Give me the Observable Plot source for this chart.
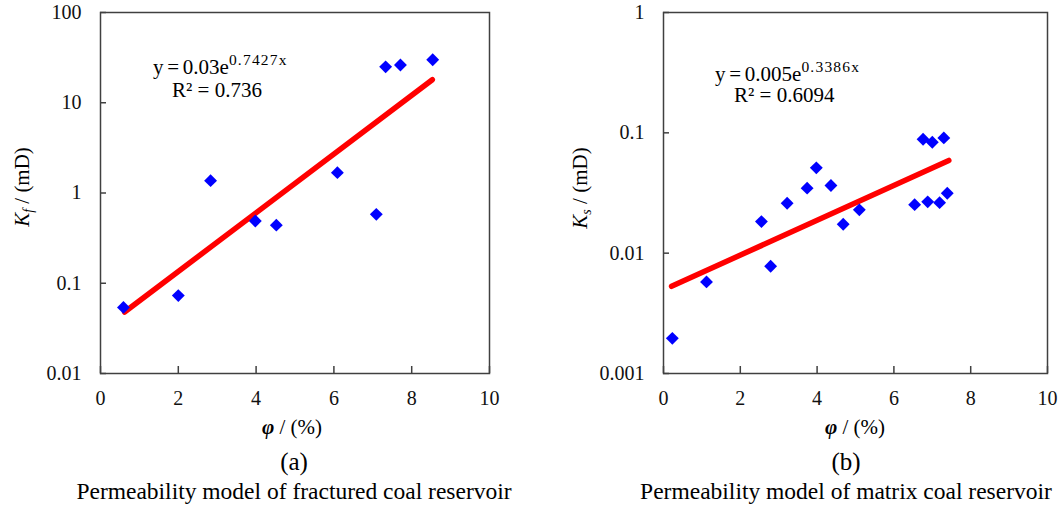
<!DOCTYPE html>
<html>
<head>
<meta charset="utf-8">
<script src="https://cdn.jsdelivr.net/npm/d3@7"></script>
<script src="https://cdn.jsdelivr.net/npm/@observablehq/plot@0.6"></script>
<style>
  body { margin: 0; background: #fff; }
  #wrap { position: relative; width: 1062px; height: 508px; overflow: hidden; background: #fff; }
  #wrap > svg { position: absolute; top: 0; }
</style>
</head>
<body>
<div id="wrap"></div>
<script>
// ---- Data ----
// Panel (a): fractured coal reservoir
const phiA = [0.59, 2.0, 2.83, 3.98, 4.52, 6.09, 7.09, 7.33, 7.71, 8.54];
const kfA  = [0.054, 0.073, 1.37, 0.49, 0.44, 1.68, 0.58, 25, 26.2, 30];
const fitPhiA = [0.62, 8.53];
const fitKA   = [0.048, 18];
// Panel (b): matrix coal reservoir
const phiB = [0.23, 1.12, 2.79, 2.55, 3.22, 3.74, 3.98, 4.36, 4.68, 5.10, 6.54, 6.76, 6.88, 7.00, 7.19, 7.30, 7.39];
const ksB  = [0.00196, 0.00577, 0.00778, 0.0183, 0.026, 0.0347, 0.0512, 0.0365, 0.0174, 0.0229, 0.0253, 0.0885, 0.0267, 0.0836, 0.0263, 0.0908, 0.0315];
const fitPhiB = [0.21, 7.43];
const fitKB   = [0.0053, 0.059];
// Ticks
const xTicks  = [0, 2, 4, 6, 8, 10];
const yTicksA = [0.01, 0.1, 1, 10, 100];
const yTicksB = [0.001, 0.01, 0.1, 1];
// Texts
const eqA = ["y = 0.03e", "0.7427x", "R² = 0.736"];
const eqB = ["y = 0.005e", "0.3386x", "R² = 0.6094"];
const captionA = ["(a)", "Permeability model of fractured coal reservoir"];
const captionB = ["(b)", "Permeability model of matrix coal reservoir"];

const FONT = '"Liberation Serif", "Times New Roman", serif';
const AXIS = "#404040";

function panel({phi, k, fitPhi, fitK, yDomain, yTicks, width, marginLeft, marginRight}) {
  const pts = phi.map((p, i) => ({phi: p, k: k[i]}));
  const fit = fitPhi.map((p, i) => ({phi: p, k: fitK[i]}));
  return Plot.plot({
    width, height: 440,
    marginLeft, marginRight, marginTop: 12, marginBottom: 67,
    style: {fontFamily: FONT, fontSize: "20px", color: "#111", background: "transparent", overflow: "visible"},
    x: {domain: [0, 10], label: null},
    y: {type: "log", domain: yDomain, label: null},
    marks: [
      Plot.axisX({ticks: xTicks, tickFormat: d => String(d), tickSize: -7, tickPadding: 24, stroke: AXIS, strokeWidth: 1.5, label: null}),
      Plot.axisY({ticks: yTicks, tickFormat: d => String(d), tickSize: -6, tickPadding: 25, stroke: AXIS, strokeWidth: 1.5, label: null}),
      Plot.line(fit, {x: "phi", y: "k", stroke: "#ff0000", strokeWidth: 5.5, strokeLinecap: "round"}),
      Plot.dot(pts, {x: "phi", y: "k", symbol: "diamond2", r: 5.8, fill: "#0000ff", stroke: null}),
      Plot.frame({stroke: AXIS, strokeWidth: 1.5})
    ]
  });
}

const wrap = document.getElementById("wrap");
const a = panel({phi: phiA, k: kfA, fitPhi: fitPhiA, fitK: fitKA, yDomain: [0.01, 100], yTicks: yTicksA, width: 540, marginLeft: 100, marginRight: 51});
a.style.left = "0px";
wrap.appendChild(a);
const b = panel({phi: phiB, k: ksB, fitPhi: fitPhiB, fitK: fitKB, yDomain: [0.001, 1], yTicks: yTicksB, width: 522, marginLeft: 123, marginRight: 15});
b.style.left = "540px";
wrap.appendChild(b);

// ---- Text overlay ----
const ov = d3.select("#wrap").append("svg")
  .attr("width", 1062).attr("height", 508)
  .style("left", "0px").style("pointer-events", "none")
  .attr("font-family", FONT).attr("fill", "#000");

function equation(x, y1, y2, [main, sup, r2]) {
  const t = ov.append("text").attr("x", x).attr("y", y1).attr("font-size", 21).attr("word-spacing", -1.5);
  t.append("tspan").text(main);
  t.append("tspan").attr("font-size", 15.5).attr("letter-spacing", 1.2).attr("dy", -9.5).text(sup);
  ov.append("text").attr("x", x + 19).attr("y", y2).attr("font-size", 21).text(r2);
}
equation(153, 74, 97, eqA);
equation(715, 81, 102, eqB);

function yLabel(cx, cy, sub) {
  const t = ov.append("text").attr("transform", `translate(${cx},${cy}) rotate(-90)`)
    .attr("text-anchor", "middle").attr("dy", "0.35em").attr("font-size", 21);
  t.append("tspan").attr("font-style", "italic").text("K");
  t.append("tspan").attr("font-style", "italic").attr("font-size", 14).attr("dy", 4).text(sub);
  t.append("tspan").attr("dy", -4).text(" / (mD)");
}
yLabel(22, 187, "f");
yLabel(580, 188, "s");

function xLabel(cx, y) {
  const t = ov.append("text").attr("x", cx).attr("y", y).attr("text-anchor", "middle").attr("font-size", 21);
  t.append("tspan").attr("font-style", "italic").attr("font-weight", "bold").text("φ");
  t.append("tspan").text(" / (%)");
}
xLabel(292, 434);
xLabel(855, 434);

function caption(cx, [tag, text]) {
  ov.append("text").attr("x", cx).attr("y", 470).attr("text-anchor", "middle").attr("font-size", 25).text(tag);
  ov.append("text").attr("x", cx).attr("y", 499).attr("text-anchor", "middle").attr("font-size", 23.5).text(text);
}
caption(294, captionA);
caption(846, captionB);
</script>
</body>
</html>
